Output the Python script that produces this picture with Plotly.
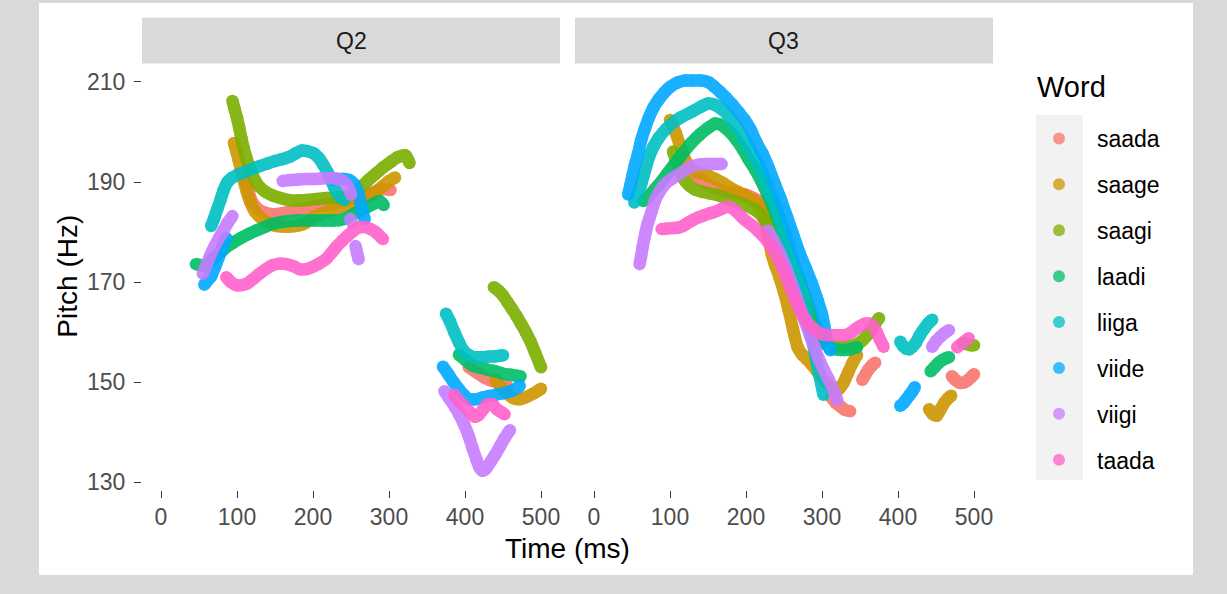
import plotly.graph_objects as go

W, H = 1227, 594

words = ["saada", "saage", "saagi", "laadi", "liiga", "viide", "viigi", "taada"]
colors = ["#F8766D", "#CD9600", "#7CAE00", "#00BE67", "#00BFC4", "#00A9FF", "#C77CFF", "#FF61CC"]
panels = ["Q2", "Q3"]
x_ticks = [0, 100, 200, 300, 400, 500]
y_ticks = [130, 150, 170, 190, 210]

# ---------- Q2 contours (time ms / pitch Hz), None separates segments ----------
q2_saada_t = [112, 120, 130, 145, 160, 175, 190, 205, 220, 235, 250, 265, 280, 292, 302,
              None, 405, 415, 425, 435, 445, 455]
q2_saada_hz = [190, 186, 184.3, 183.6, 183.8, 184.3, 184.8, 185.2, 185.5, 186, 186.6, 187.2, 188, 188.6, 188.4,
               None, 153, 152, 151, 150.3, 149.8, 149.3]

q2_saage_t = [96, 99, 102, 105, 109, 113, 118, 124, 131, 140, 150, 160, 170, 180, 190, 200, 210, 220, 235, 250,
              265, 280, 292, 300, 308,
              None, 440, 448, 456, 464, 472, 480, 488, 496, 500]
q2_saage_hz = [197.8, 196.2, 194.5, 192.6, 190.2, 188, 185.8, 184, 182.9, 181.9, 181.3, 181.1, 181.1, 181.3, 181.8,
               182.9, 183.6, 184.2, 184.9, 185.6, 186.5, 187.8, 189.2, 190.2, 190.9,
               None, 150.5, 149, 147.7, 146.8, 146.6, 147, 147.6, 148.3, 148.7]

q2_saagi_t = [94, 97, 100, 103, 106, 109, 112, 115, 119, 124, 130, 138, 147, 157, 168, 180, 192, 205, 218, 232,
              245, 255, 263, 272, 282, 292, 302, 312, 322, 327,
              None, 438, 444, 450, 456, 462, 468, 474, 480, 486, 492, 500]
q2_saagi_hz = [206.2, 204.5, 202.8, 200.8, 198.6, 196.7, 195, 193.6, 192, 190.3, 189, 188, 187.3, 186.8, 186.4,
               186.3, 186.4, 186.6, 186.8, 186.9, 187.2, 188, 189, 190.3, 191.6, 192.9, 194, 195, 195.3, 193.8,
               None, 169, 168.3, 167.3, 166, 164.6, 163.2, 161.6, 160, 158.2, 156, 153]

q2_laadi_t = [46, 52, 58, 64, 70, 78, 86, 95, 105, 115, 125, 136, 147, 158, 169, 180, 191, 202, 213, 224, 235,
              244, 252, 261, 270, 279, 288, 293,
              None, 392, 400, 410, 420, 430, 440, 450, 460, 468, 473]
q2_laadi_hz = [173.6, 173.4, 173.2, 174, 174.9, 175.9, 177, 177.9, 178.8, 179.6, 180.3, 181, 181.6, 182, 182.2,
               182.3, 182.3, 182.3, 182.3, 182.3, 182.4, 182.8, 183.5, 184.2, 184.9, 185.6, 186.2, 185.4,
               None, 155.5, 154.5, 153.3, 152.9, 152.5, 152.2, 151.7, 151.5, 151.3, 151.2]

q2_liiga_t = [66, 70, 74, 78, 82, 87, 93, 100, 110, 120, 130, 140, 150, 160, 170, 178, 185, 192, 200, 207, 213,
              219, 224, 229, 235, 241,
              None, 375, 380, 386, 392, 397, 403, 410, 420, 430, 440, 450]
q2_liiga_hz = [181.2, 182.8, 184.6, 186.3, 188.2, 189.9, 190.8, 191.4, 192, 192.6, 193.2, 193.7, 194.2, 194.6,
               195.1, 195.8, 196.3, 196.2, 195.8, 194.9, 193.6, 192, 190.3, 188.6, 187.2, 186.4,
               None, 163.7, 162.2, 160, 158, 156.5, 155.6, 155.1, 155, 155.1, 155.2, 155.4]

q2_viide_t = [57, 61, 66, 71, 76, 81, 86,
              None, 226, 232, 240, 248, 254, 258, 261, 263, 265, 268,
              None, 371, 378, 385, 392, 399, 406, 414, 422, 430, 440, 450, 460, 468, 472]
q2_viide_hz = [169.5, 170.3, 171.2, 173, 175, 177, 178.8,
               None, 190.4, 190.6, 190.6, 190.4, 189.6, 188.4, 187, 185.6, 184.2, 182.6,
               None, 153.1, 151.6, 150, 148.6, 147.4, 146.6, 146.6, 146.9, 147.2, 147.5, 147.8, 148.2, 148.8, 149.3]

q2_viigi_t = [55, 60, 65, 70, 76, 82, 88, 94,
              None, 160, 170, 180, 190, 200, 210, 220, 230, 238, 244, 248, 250,
              None, 249, 251,
              None, 256, 258, 260,
              None, 373, 380, 387, 393, 399, 405, 410, 415, 419, 423, 428, 434, 440, 446, 452, 459]
q2_viigi_hz = [171.7, 173.5, 175.4, 177, 178.7, 180.3, 181.9, 183.2,
               None, 190.2, 190.4, 190.5, 190.6, 190.6, 190.7, 190.8, 190.7, 190.3, 189.5, 188.4, 187.5,
               None, 182.6, 182.0,
               None, 177.2, 175.8, 174.6,
               None, 148.2, 146.6, 145, 143.4, 141.5, 139.2, 136.8, 134.6, 133, 132.3, 132.8, 134.2, 135.6, 137.2,
               138.8, 140.4]

q2_taada_t = [86, 92, 99, 106, 113, 121, 129, 138, 147, 156, 165, 174, 182, 191, 200, 208, 217, 224, 231, 238,
              245, 252, 260, 268, 276, 284, 292,
              None, 386, 392, 399, 406, 413, 418, 424, 430, 436, 442, 448, 452]
q2_taada_hz = [171, 170, 169.4, 169.4, 169.7, 170.6, 171.6, 172.6, 173.4, 173.7, 173.6, 173.2, 172.6, 172.6, 173.1,
               173.7, 174.6, 175.8, 177.1, 178.2, 179.2, 180.1, 180.9, 181, 180.6, 179.8, 178.6,
               None, 147.5, 146.3, 145.2, 144.1, 143.1, 143.5, 144.6, 145.6, 145.6, 144.6, 144, 143.6]

# ---------- Q3 contours ----------
q3_saada_t = [133, 140, 150, 160, 172, 185, 199, 210, 218, 225, 230,
              None, 312, 318, 324, 330, 337,
              None, 353, 357, 361, 366, 370,
              None, 471, 476, 481, 486, 491, 496, 500]
q3_saada_hz = [191.5, 190.6, 189.5, 188.8, 188.2, 187.8, 187.5, 186.8, 186.1, 185, 183.6,
               None, 147, 145.9, 145.2, 144.5, 144.2,
               None, 150.5, 151.5, 152.5, 153.4, 153.9,
               None, 151.2, 150.4, 149.9, 149.9, 150.3, 151, 151.6]

q3_saage_t = [100, 104, 108, 112, 116, 120, 126, 133, 141, 150, 160, 170, 180, 190, 200, 210, 218, 224, 229, 234,
              238, 244, 250, 256, 262, 268, 274, 280, 286, 292, 298, 304, 310, 316, 322, 328, 334, 340, 346,
              None, 441, 446, 451, 456, 461, 466, 470]
q3_saage_hz = [202.4, 201.2, 199.7, 197.8, 195.9, 194.5, 192.9, 192.1, 191.7, 191.3, 190.6, 189.8, 188.8, 188,
               187.2, 186.3, 185.2, 183, 179.5, 175.5, 173.5, 171, 168, 164.5, 160.5, 157, 155.5, 154.6, 153.6,
               152.5, 151.3, 150.2, 149.3, 148.7, 148.6, 149.8, 151.8, 153.8, 155.4,
               None, 144.6, 143.6, 143.3, 144.6, 145.9, 146.8, 147.3]

q3_saagi_t = [104, 108, 112, 116, 120, 126, 133, 141, 150, 160, 170, 180, 190, 200, 210, 220, 228, 234, 240, 246,
              252, 258, 264, 270, 276, 282, 288, 294, 300, 308, 318, 330, 342, 352, 360, 366, 371, 375,
              None, 486, 491, 496, 500]
q3_saagi_hz = [196.1, 194.3, 192.6, 191.2, 190.2, 189.2, 188.5, 188.1, 187.8, 187.5, 187, 186.4, 185.9, 185.3,
               184.6, 183.4, 181.5, 179.3, 177, 175, 173, 171.2, 169.4, 167.6, 165.8, 164, 162.2, 160.5, 159,
               157.6, 157.1, 157.1, 157.4, 158.2, 159.5, 160.8, 162, 162.8,
               None, 157.8, 157.6, 157.4, 157.4]

q3_laadi_t = [65, 72, 80, 88, 96, 106, 116, 128, 140, 150, 159, 166, 173, 180, 188, 196, 204, 212, 220, 228, 236,
              244, 252, 260, 268, 276, 284, 292, 300, 310, 322, 334, 346,
              None, 443, 448, 453, 458, 463, 467]
q3_laadi_hz = [186.2, 187.2, 188.6, 190, 191.6, 193.6, 195.6, 197.8, 199.6, 200.8, 201.7, 201.5, 200.8, 199.8,
               198.3, 196.5, 194.4, 192.5, 190.2, 187.6, 184.8, 181.6, 178.3, 175, 171.5, 168, 164.6, 161.2, 158.4,
               157, 156.5, 156.5, 157,
               None, 152.2, 153, 153.8, 154.4, 154.8, 155]

q3_liiga_t = [53, 57, 62, 67, 72, 78, 85, 95, 105, 115, 128, 140, 150, 158, 166, 174, 182, 190, 198, 206, 214,
              222, 230, 238, 246, 254, 262, 270, 278, 284, 290, 296, 302,
              None, 403, 407, 411, 415, 419, 423, 428, 434, 440, 445]
q3_liiga_hz = [185.9, 187.5, 189.5, 192.2, 194.8, 197, 198.8, 200.6, 202, 203, 204, 205, 205.7, 205.5, 204.8,
               203.8, 202.3, 200.6, 198.6, 196.4, 194, 191.6, 188.6, 185.5, 182, 178.5, 174, 169.5, 164.4, 160.6,
               156.3, 151.7, 147.5,
               None, 158.1, 157.2, 156.7, 156.6, 157.1, 157.8, 159.2, 160.6, 161.8, 162.5]

q3_viide_t = [45, 48, 51, 54, 58, 62, 67, 72, 78, 85, 92, 100, 110, 120, 130, 140, 150, 158, 166, 174, 182, 190,
              198, 206, 214, 222, 230, 238, 246, 254, 262, 270, 278, 286, 294, 300, 304, 307, 311,
              None, 403, 407, 411, 415, 419, 422]
q3_viide_hz = [187.5, 189.5, 191.5, 193.5, 195.7, 198.3, 200.7, 202.8, 204.8, 206.5, 207.8, 209, 209.9, 210.3,
               210.3, 210.3, 210, 209.1, 208, 206.8, 205.5, 204, 202.5, 200.5, 197.8, 195.6, 192.8, 189.6, 186.5,
               183, 179.5, 176, 173, 170, 166.5, 163.5, 160.5, 157.8, 156.4,
               None, 145.3, 145.8, 146.6, 147.4, 148.2, 149]

q3_viigi_t = [60, 62, 64, 66, 68, 70, 73, 76, 80, 86, 93, 101, 111, 120, 128, 138, 150, 160, 168,
              None, 229, 236, 242, 248, 254, 260, 266, 272, 278, 284, 290, 296, 302, 308, 313, 317, 320,
              None, 445, 450, 456, 461, 467]
q3_viigi_hz = [173.6, 175.2, 177, 178.6, 180, 181.4, 182.8, 184.2, 186.2, 188, 189.5, 190.5, 191.5, 192.4, 193.1,
               193.5, 193.6, 193.6, 193.6,
               None, 180.3, 178.4, 176.6, 174.6, 172.3, 169.8, 167.2, 164.5, 162, 159.4, 157, 154.6, 152.6, 150.8,
               149.2, 147.7, 146.5,
               None, 157.1, 158.2, 159.1, 159.8, 160.4]

q3_taada_t = [89, 96, 104, 111, 118, 124, 130, 137, 144, 151, 158, 166, 174, 180, 186, 192, 198, 204, 210, 216,
              222, 228, 234, 240, 246, 252, 258, 264, 270, 276, 282, 288, 294, 300, 310, 320, 330, 338, 344, 350,
              356, 362, 367, 372, 376, 381,
              None, 478, 483, 488, 493]
q3_taada_hz = [180.6, 180.7, 180.8, 180.9, 181.3, 181.9, 182.4, 182.9, 183.3, 183.7, 184, 184.5, 185, 184.9, 184.3,
               183.4, 182.5, 181.8, 181.1, 180.2, 179.3, 178.2, 176.9, 175.4, 173.5, 171.4, 169, 166.8, 164.6,
               163, 161.7, 160.8, 160.1, 159.6, 159.4, 159.4, 159.4, 159.9, 160.6, 161.2, 161.7, 161.7, 161.2, 160,
               158.6, 157.1,
               None, 157, 157.6, 158.2, 158.8]

contours = {
    "Q2": {"saada": (q2_saada_t, q2_saada_hz), "saage": (q2_saage_t, q2_saage_hz),
           "saagi": (q2_saagi_t, q2_saagi_hz), "laadi": (q2_laadi_t, q2_laadi_hz),
           "liiga": (q2_liiga_t, q2_liiga_hz), "viide": (q2_viide_t, q2_viide_hz),
           "viigi": (q2_viigi_t, q2_viigi_hz), "taada": (q2_taada_t, q2_taada_hz)},
    "Q3": {"saada": (q3_saada_t, q3_saada_hz), "saage": (q3_saage_t, q3_saage_hz),
           "saagi": (q3_saagi_t, q3_saagi_hz), "laadi": (q3_laadi_t, q3_laadi_hz),
           "liiga": (q3_liiga_t, q3_liiga_hz), "viide": (q3_viide_t, q3_viide_hz),
           "viigi": (q3_viigi_t, q3_viigi_hz), "taada": (q3_taada_t, q3_taada_hz)},
}

FONT = "Liberation Sans, Arial, Helvetica, sans-serif"
px = lambda v: v / W
py = lambda v: 1 - v / H

fig = go.Figure()
for pi, panel in enumerate(panels):
    xa = "x" if pi == 0 else "x2"
    ya = "y" if pi == 0 else "y2"
    for word, col in zip(words, colors):
        t, hz = contours[panel][word]
        fig.add_trace(go.Scatter(
            x=t, y=hz, xaxis=xa, yaxis=ya, mode="lines+markers", name=word,
            line=dict(color=col, width=12.5, shape="spline", smoothing=0.6),
            marker=dict(color=col, size=12.5),
            opacity=0.9, showlegend=False, hoverinfo="skip"))

# legend entries
for word, col in zip(words, colors):
    fig.add_trace(go.Scatter(x=[None], y=[None], mode="markers", name=word,
                             marker=dict(color=col, size=12, opacity=0.75),
                             legendgroup=word, showlegend=True))

axis_common = dict(showgrid=True, gridcolor="white", gridwidth=1.6, zeroline=False,
                   ticklen=7, tickwidth=1.4, tickcolor="#333333",
                   tickfont=dict(family=FONT, size=23, color="#4d4d4d"),
                   showline=False)
minor_x = dict(dtick=50, tick0=0, showgrid=True, gridcolor="white", gridwidth=0.8, ticks="")
minor_y = dict(dtick=10, tick0=130, showgrid=True, gridcolor="white", gridwidth=0.8, ticks="")

dom_y = [py(494), py(64)]
fig.update_layout(
    width=W, height=H,
    margin=dict(l=0, r=0, t=0, b=0),
    paper_bgcolor="#d9d9d9", plot_bgcolor="#ebebeb",
    font=dict(family=FONT, color="#1a1a1a"),
    xaxis=dict(domain=[px(142), px(560)], range=[-25, 525], tickvals=x_ticks, ticks="outside",
               minor=minor_x, anchor="y", ticklabelstandoff=0, **axis_common),
    xaxis2=dict(domain=[px(575), px(993)], range=[-25, 525], tickvals=x_ticks, ticks="outside",
                minor=minor_x, anchor="y2", ticklabelstandoff=0, **axis_common),
    yaxis=dict(domain=dom_y, range=[128.5, 213.7], tickvals=y_ticks, ticks="outside",
               minor=minor_y, anchor="x", ticklabelstandoff=4, **axis_common),
    yaxis2=dict(domain=dom_y, range=[128.5, 213.7], tickvals=y_ticks, ticks="", showticklabels=False,
                minor=minor_y, anchor="x2", **axis_common),
    legend=dict(x=px(1021), xanchor="left", y=py(118), yanchor="top",
                bgcolor="rgba(0,0,0,0)", font=dict(family=FONT, size=23, color="#000000"),
                tracegroupgap=13, itemwidth=66),
)

shapes = [
    dict(type="rect", xref="paper", yref="paper", x0=px(39), x1=px(1193), y0=py(580), y1=py(3),
         fillcolor="white", line=dict(width=0), layer="below"),
    dict(type="rect", xref="paper", yref="paper", x0=px(1036), x1=px(1083), y0=py(484), y1=py(116),
         fillcolor="#f2f2f2", line=dict(width=0), layer="below"),
]
annotations = []
for (x0, x1), label in zip([(142, 560), (575, 993)], panels):
    shapes.append(dict(type="rect", xref="paper", yref="paper", x0=px(x0), x1=px(x1), y0=py(64), y1=py(18),
                       fillcolor="#d9d9d9", line=dict(width=0)))
    annotations.append(dict(text=label, xref="paper", yref="paper", x=px((x0 + x1) / 2), y=py(41),
                            showarrow=False, font=dict(family=FONT, size=23, color="#1a1a1a"),
                            xanchor="center", yanchor="middle"))
annotations.append(dict(text="Word", xref="paper", yref="paper", x=px(1035), y=py(88), showarrow=False,
                        font=dict(family=FONT, size=29, color="#000000"), xanchor="left", yanchor="middle"))
annotations.append(dict(text="Time (ms)", xref="paper", yref="paper", x=px(567), y=py(553), showarrow=False,
                        font=dict(family=FONT, size=28, color="#000000"), xanchor="center", yanchor="middle"))
annotations.append(dict(text="Pitch (Hz)", xref="paper", yref="paper", x=px(68), y=py(279), showarrow=False,
                        textangle=-90, font=dict(family=FONT, size=28, color="#000000"),
                        xanchor="center", yanchor="middle"))
fig.update_layout(shapes=shapes, annotations=annotations)

fig.write_html("out.html", config={"displayModeBar": False},
               post_script="document.body.style.margin='0';document.body.style.background='#d9d9d9';")
